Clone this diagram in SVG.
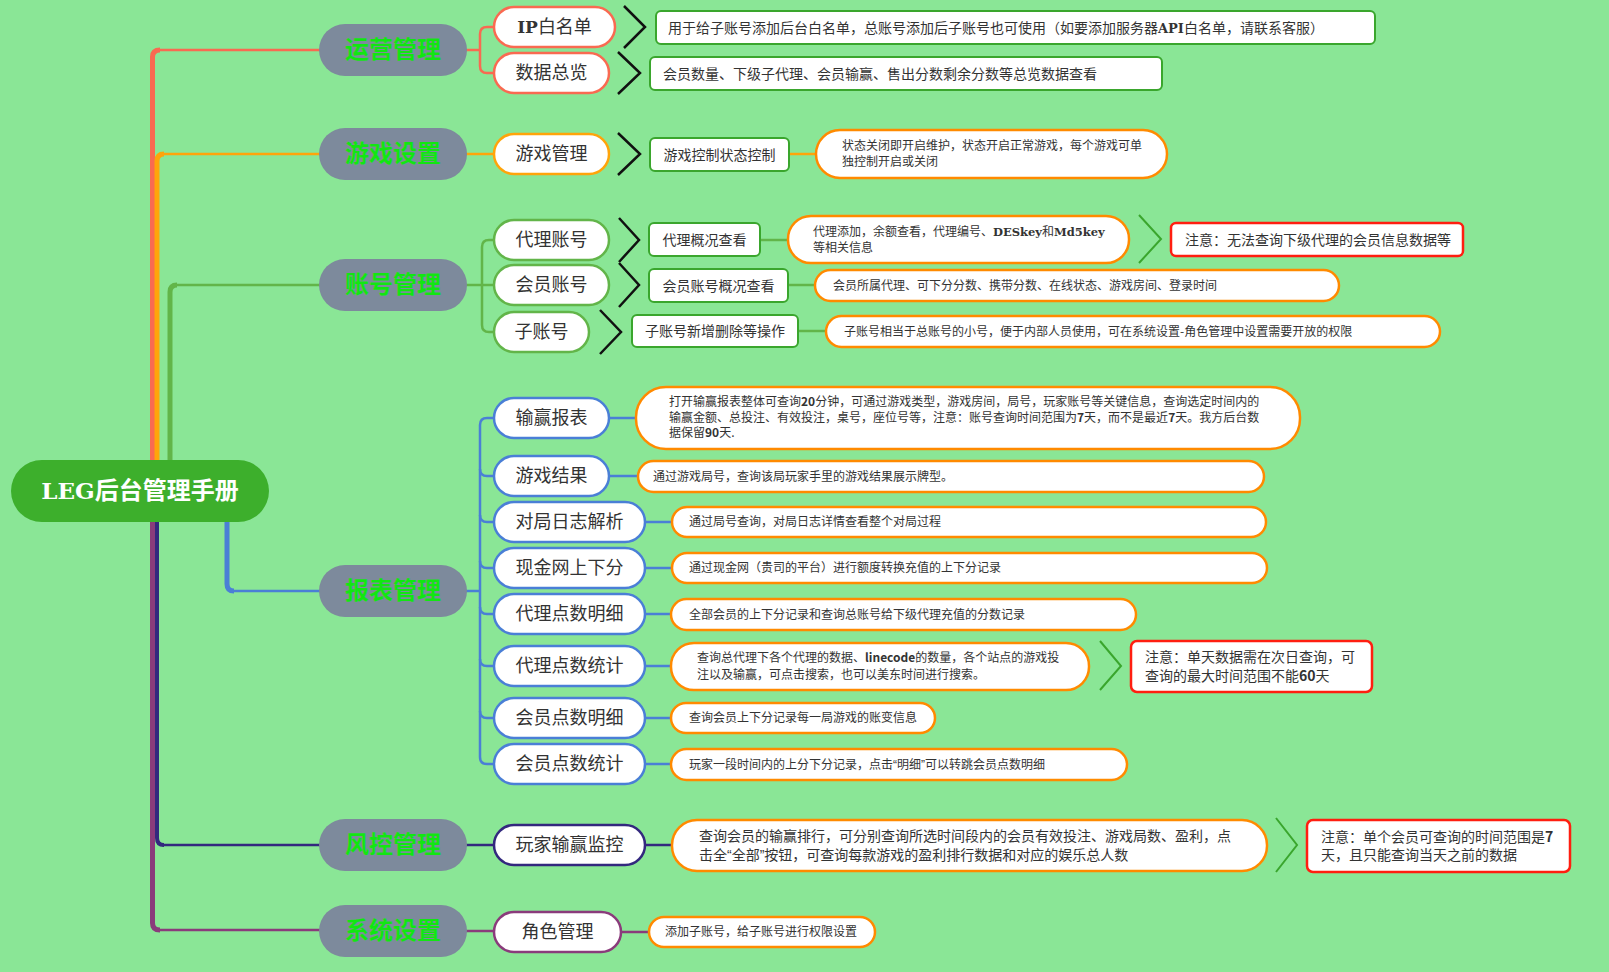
<svg xmlns="http://www.w3.org/2000/svg" width="1609" height="972" viewBox="0 0 1609 972" font-family="'Noto Sans CJK SC','Liberation Sans',sans-serif">
<style>
.cat rect{fill:#7d8a9c}
.cat text{fill:#12e612;font-size:24px;font-weight:bold;text-anchor:middle}
.node rect{fill:#fff;stroke-width:2.5}
.node text{fill:#333;font-size:18px;text-anchor:middle}
.gbox{fill:#fff;stroke:#3aa62d;stroke-width:2}
.obox{fill:#fff;stroke:#ff8a00;stroke-width:2.5}
.rbox{fill:#fff;stroke:#ff1e10;stroke-width:2.5}
.t14{fill:#333;font-size:14px}
.t12{fill:#333;font-size:12px}
.mid{text-anchor:middle}
.chev{fill:none;stroke:#111;stroke-width:2.5}
.gchev{fill:none;stroke:#3aa62d;stroke-width:2}
.slab{font-family:'DejaVu Serif',serif;font-weight:bold}
.q{font-family:'Liberation Sans',sans-serif}
.b{font-weight:bold}
.red{stroke:#f96a51}
.org{stroke:#ffa40a}
.grn{stroke:#62b549}
.blu{stroke:#4a7fd6}
.nav{stroke:#33287e}
.pur{stroke:#8a3b7b}
#connectors path,#connectors line{fill:none}
</style>
<rect width="1609" height="972" fill="#8ae696"/>

<g id="connectors">
  <path class="red" stroke-width="5" d="M152.5,470 V57 Q152.5,50 160,50"/>
  <line class="red" stroke-width="2.5" x1="158" y1="50" x2="320" y2="50"/>
  <path class="org" stroke-width="5" d="M157,470 V161 Q157,154 164,154"/>
  <line class="org" stroke-width="2.5" x1="162" y1="154" x2="320" y2="154"/>
  <path class="grn" stroke-width="5" d="M170,470 V292 Q170,285 177,285"/>
  <line class="grn" stroke-width="2.5" x1="175" y1="285" x2="320" y2="285"/>
  <path class="pur" stroke-width="5" d="M152.5,510 V923 Q152.5,930 160,930"/>
  <line class="pur" stroke-width="2.5" x1="158" y1="930" x2="320" y2="930"/>
  <path class="nav" stroke-width="4" d="M157,510 V838 Q157,845 164,845"/>
  <line class="nav" stroke-width="2.5" x1="162" y1="845" x2="320" y2="845"/>
  <path class="blu" stroke-width="5" d="M227,510 V584 Q227,591 234,591"/>
  <line class="blu" stroke-width="2.5" x1="232" y1="591" x2="320" y2="591"/>

  <line class="red" stroke-width="2.5" x1="466" y1="50" x2="480" y2="50"/>
  <path class="red" stroke-width="2.5" d="M495,27 H487 Q480,27 480,34 V66 Q480,73 487,73 H495"/>
  <line class="org" stroke-width="2.5" x1="466" y1="154" x2="495" y2="154"/>
  <line class="org" stroke-width="2.5" x1="789" y1="154" x2="817" y2="154"/>
  <line class="grn" stroke-width="2.5" x1="466" y1="285" x2="495" y2="285"/>
  <path class="grn" stroke-width="2.5" d="M495,240 H489 Q482,240 482,247 V325 Q482,332 489,332 H495"/>
  <line class="grn" stroke-width="2.5" x1="760" y1="240" x2="789" y2="240"/>
  <line class="grn" stroke-width="2.5" x1="788" y1="285" x2="816" y2="285"/>
  <line class="grn" stroke-width="2.5" x1="798" y1="331" x2="827" y2="331"/>
  <line class="blu" stroke-width="2.5" x1="466" y1="591" x2="480" y2="591"/>
  <path class="blu" stroke-width="2.5" d="M495,418 H487 Q480,418 480,425 V757 Q480,764 487,764 H495"/>
  <path class="blu" stroke-width="2.5" d="M480,469 Q480,476 487,476 H495 M480,515 Q480,522 487,522 H495 M480,561 Q480,568 487,568 H495 M480,607 Q480,614 487,614 H495 M480,659 Q480,666 487,666 H495 M480,711 Q480,718 487,718 H495"/>
  <line class="blu" stroke-width="2.5" x1="609" y1="418" x2="637" y2="418"/>
  <line class="blu" stroke-width="2.5" x1="609" y1="476" x2="639" y2="476"/>
  <line class="blu" stroke-width="2.5" x1="645" y1="522" x2="673" y2="522"/>
  <line class="blu" stroke-width="2.5" x1="645" y1="568" x2="673" y2="568"/>
  <line class="blu" stroke-width="2.5" x1="645" y1="614" x2="672" y2="614"/>
  <line class="blu" stroke-width="2.5" x1="645" y1="666" x2="672" y2="666"/>
  <line class="blu" stroke-width="2.5" x1="645" y1="718" x2="672" y2="718"/>
  <line class="blu" stroke-width="2.5" x1="645" y1="764" x2="672" y2="764"/>
  <line class="nav" stroke-width="2.5" x1="466" y1="845" x2="495" y2="845"/>
  <line class="nav" stroke-width="2.5" x1="645" y1="845" x2="673" y2="845"/>
  <line class="pur" stroke-width="2.5" x1="466" y1="931" x2="495" y2="931"/>
  <line class="pur" stroke-width="2.5" x1="621" y1="932" x2="650" y2="932"/>

  <polyline class="chev" points="624,6 645,27 624,48"/>
  <polyline class="chev" points="618,52 640,73 618,94"/>
  <polyline class="chev" points="618,133 640,154 618,175"/>
  <polyline class="chev" points="619,218 639,240 619,262"/>
  <polyline class="chev" points="619,263 639,285 619,307"/>
  <polyline class="chev" points="600,310 621,332 600,354"/>
  <polyline class="gchev" points="1139,215 1161,239 1139,263"/>
  <polyline class="gchev" points="1100,641 1121,666 1100,690"/>
  <polyline class="gchev" points="1276,818 1297,845 1276,872"/>
</g>

<g id="root">
  <rect x="11" y="460" width="258" height="62" rx="31" fill="#3daf2c"/>
  <text x="140" y="499" fill="#fff" font-size="24" font-weight="bold" text-anchor="middle"><tspan class="slab" font-size="23">LEG</tspan>后台管理手册</text>
</g>

<g id="cat-yunying" class="cat"><rect x="319" y="24" width="148" height="52" rx="26"/><text x="393" y="58">运营管理</text></g>
<g id="cat-youxi" class="cat"><rect x="319" y="128" width="148" height="52" rx="26"/><text x="393" y="162">游戏设置</text></g>
<g id="cat-zhanghao" class="cat"><rect x="319" y="259" width="148" height="52" rx="26"/><text x="393" y="293">账号管理</text></g>
<g id="cat-baobiao" class="cat"><rect x="319" y="565" width="148" height="52" rx="26"/><text x="393" y="599">报表管理</text></g>
<g id="cat-fengkong" class="cat"><rect x="319" y="819" width="148" height="52" rx="26"/><text x="393" y="853">风控管理</text></g>
<g id="cat-xitong" class="cat"><rect x="319" y="905" width="148" height="52" rx="26"/><text x="393" y="939">系统设置</text></g>

<g id="n-ip" class="node"><rect class="red" x="494" y="7" width="121" height="40" rx="20"/><text x="554.5" y="33"><tspan class="slab" font-size="17">IP</tspan>白名单</text></g>
<g id="n-shuju" class="node"><rect class="red" x="494" y="53" width="115" height="40" rx="20"/><text x="551.5" y="79">数据总览</text></g>
<g id="n-youxiguanli" class="node"><rect class="org" x="494" y="134" width="115" height="40" rx="20"/><text x="551.5" y="160">游戏管理</text></g>
<g id="n-daili" class="node"><rect class="grn" x="494" y="220" width="115" height="40" rx="20"/><text x="551.5" y="246">代理账号</text></g>
<g id="n-huiyuan" class="node"><rect class="grn" x="494" y="265" width="115" height="40" rx="20"/><text x="551.5" y="291">会员账号</text></g>
<g id="n-zizhanghao" class="node"><rect class="grn" x="494" y="312" width="95" height="40" rx="20"/><text x="541.5" y="338">子账号</text></g>
<g id="n-shuying" class="node"><rect class="blu" x="494" y="398" width="115" height="40" rx="20"/><text x="551.5" y="424">输赢报表</text></g>
<g id="n-jieguo" class="node"><rect class="blu" x="494" y="456" width="115" height="40" rx="20"/><text x="551.5" y="482">游戏结果</text></g>
<g id="n-rizhi" class="node"><rect class="blu" x="494" y="502" width="151" height="40" rx="20"/><text x="569.5" y="528">对局日志解析</text></g>
<g id="n-xianjin" class="node"><rect class="blu" x="494" y="548" width="151" height="40" rx="20"/><text x="569.5" y="574">现金网上下分</text></g>
<g id="n-dlmx" class="node"><rect class="blu" x="494" y="594" width="151" height="40" rx="20"/><text x="569.5" y="620">代理点数明细</text></g>
<g id="n-dltj" class="node"><rect class="blu" x="494" y="646" width="151" height="40" rx="20"/><text x="569.5" y="672">代理点数统计</text></g>
<g id="n-hymx" class="node"><rect class="blu" x="494" y="698" width="151" height="40" rx="20"/><text x="569.5" y="724">会员点数明细</text></g>
<g id="n-hytj" class="node"><rect class="blu" x="494" y="744" width="151" height="40" rx="20"/><text x="569.5" y="770">会员点数统计</text></g>
<g id="n-jiankong" class="node"><rect class="nav" x="494" y="825" width="151" height="40" rx="20"/><text x="569.5" y="851">玩家输赢监控</text></g>
<g id="n-juese" class="node"><rect class="pur" x="494" y="912" width="127" height="40" rx="20"/><text x="557.5" y="938">角色管理</text></g>

<g id="d-ip"><rect class="gbox" x="656" y="11" width="719" height="33" rx="5"/><text class="t14" x="668" y="32.5">用于给子账号添加后台白名单，总账号添加后子账号也可使用（如要添加服务器<tspan class="slab" font-size="13">API</tspan>白名单，请联系客服）</text></g>
<g id="d-shuju"><rect class="gbox" x="650" y="57" width="512" height="33" rx="5"/><text class="t14" x="663" y="78.5">会员数量、下级子代理、会员输赢、售出分数剩余分数等总览数据查看</text></g>
<g id="d-youxi1"><rect class="gbox" x="650" y="138" width="139" height="33" rx="5"/><text class="t14 mid" x="719.5" y="159.5">游戏控制状态控制</text></g>
<g id="d-youxi2"><rect class="obox" x="816" y="130" width="351" height="48" rx="24"/><text class="t12" x="842" y="150">状态关闭即开启维护，状态开启正常游戏，每个游戏可单</text><text class="t12" x="842" y="166">独控制开启或关闭</text></g>
<g id="d-daili1"><rect class="gbox" x="649" y="223" width="111" height="33" rx="5"/><text class="t14 mid" x="704.5" y="244.5">代理概况查看</text></g>
<g id="d-daili2"><rect class="obox" x="788" y="216" width="341" height="47" rx="23"/><text class="t12" x="813" y="236">代理添加，余额查看，代理编号、<tspan class="slab" font-size="11.5">DESkey</tspan>和<tspan class="slab" font-size="11.5">Md5key</tspan></text><text class="t12" x="813" y="252">等相关信息</text></g>
<g id="note-daili"><rect class="rbox" x="1171" y="223" width="292" height="33" rx="5"/><text class="t14" x="1185" y="244.5">注意：无法查询下级代理的会员信息数据等</text></g>
<g id="d-huiyuan1"><rect class="gbox" x="649" y="269" width="139" height="33" rx="5"/><text class="t14 mid" x="718.5" y="290.5">会员账号概况查看</text></g>
<g id="d-huiyuan2"><rect class="obox" x="815" y="270" width="524" height="31" rx="15.5"/><text class="t12" x="833" y="289.5">会员所属代理、可下分分数、携带分数、在线状态、游戏房间、登录时间</text></g>
<g id="d-zi1"><rect class="gbox" x="632" y="315" width="166" height="32" rx="5"/><text class="t14 mid" x="715" y="336">子账号新增删除等操作</text></g>
<g id="d-zi2"><rect class="obox" x="826" y="316" width="614" height="31" rx="15.5"/><text class="t12" x="844" y="335.5">子账号相当于总账号的小号，便于内部人员使用，可在系统设置-角色管理中设置需要开放的权限</text></g>

<g id="d-shuying"><rect class="obox" x="636" y="387" width="664" height="62" rx="30"/>
<text class="t12" x="669" y="406">打开输赢报表整体可查询<tspan class="b">20</tspan>分钟，可通过游戏类型，游戏房间，局号，玩家账号等关键信息，查询选定时间内的</text>
<text class="t12" x="669" y="422">输赢金额、总投注、有效投注，桌号，座位号等，注意：账号查询时间范围为<tspan class="b">7</tspan>天，而不是最近<tspan class="b">7</tspan>天。我方后台数</text>
<text class="t12" x="669" y="437">据保留<tspan class="b">90</tspan>天.</text></g>
<g id="d-jieguo"><rect class="obox" x="638" y="461" width="626" height="31" rx="15.5"/><text class="t12" x="653" y="480.5">通过游戏局号，查询该局玩家手里的游戏结果展示牌型。</text></g>
<g id="d-rizhi"><rect class="obox" x="672" y="507" width="594" height="30" rx="15"/><text class="t12" x="689" y="526">通过局号查询，对局日志详情查看整个对局过程</text></g>
<g id="d-xianjin"><rect class="obox" x="672" y="553" width="595" height="30" rx="15"/><text class="t12" x="689" y="572">通过现金网（贵司的平台）进行额度转换充值的上下分记录</text></g>
<g id="d-dlmx"><rect class="obox" x="671" y="599" width="465" height="31" rx="15.5"/><text class="t12" x="689" y="618.5">全部会员的上下分记录和查询总账号给下级代理充值的分数记录</text></g>
<g id="d-dltj"><rect class="obox" x="671" y="643" width="418" height="47" rx="23"/><text class="t12" x="697" y="662">查询总代理下各个代理的数据、<tspan class="b">linecode</tspan>的数量，各个站点的游戏投</text><text class="t12" x="697" y="679">注以及输赢，可点击搜索，也可以美东时间进行搜索。</text></g>
<g id="note-dltj"><rect class="rbox" x="1131" y="641" width="241" height="51" rx="6"/><text class="t14" x="1145" y="662">注意：单天数据需在次日查询，可</text><text class="t14" x="1145" y="681">查询的最大时间范围不能<tspan class="b">60</tspan>天</text></g>
<g id="d-hymx"><rect class="obox" x="671" y="703" width="264" height="30" rx="15"/><text class="t12" x="689" y="722">查询会员上下分记录每一局游戏的账变信息</text></g>
<g id="d-hytj"><rect class="obox" x="671" y="749" width="456" height="31" rx="15.5"/><text class="t12" x="689" y="768.5">玩家一段时间内的上分下分记录，点击<tspan class="q">“</tspan>明细<tspan class="q">”</tspan>可以转跳会员点数明细</text></g>

<g id="d-jiankong"><rect class="obox" x="672" y="820" width="595" height="51" rx="25"/><text class="t14" x="699" y="841">查询会员的输赢排行，可分别查询所选时间段内的会员有效投注、游戏局数、盈利，点</text><text class="t14" x="699" y="860">击全<tspan class="q">“</tspan>全部<tspan class="q">”</tspan>按钮，可查询每款游戏的盈利排行数据和对应的娱乐总人数</text></g>
<g id="note-jiankong"><rect class="rbox" x="1307" y="820" width="263" height="52" rx="6"/><text class="t14" x="1321" y="842">注意：单个会员可查询的时间范围是<tspan class="b">7</tspan></text><text class="t14" x="1321" y="860">天，且只能查询当天之前的数据</text></g>

<g id="d-juese"><rect class="obox" x="649" y="917" width="226" height="30" rx="15"/><text class="t12" x="665" y="936">添加子账号，给子账号进行权限设置</text></g>
</svg>
